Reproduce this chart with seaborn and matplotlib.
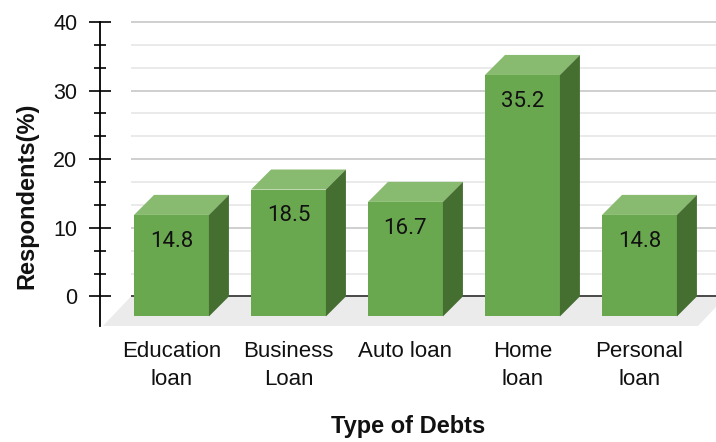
import matplotlib
matplotlib.use("Agg")
import matplotlib.pyplot as plt
from matplotlib.patches import Polygon
from matplotlib.ticker import FixedLocator
import pandas as pd
import seaborn as sns

# Survey data: share of respondents holding each type of debt
categories = ["Education\nloan", "Business\nLoan", "Auto loan", "Home\nloan", "Personal\nloan"]
respondents = [14.8, 18.5, 16.7, 35.2, 14.8]
y_ticks = [0, 10, 20, 30, 40]

df = pd.DataFrame({"debt": categories, "pct": respondents})

sns.set_theme(style="white")
plt.rcParams["font.family"] = ["Liberation Sans", "DejaVu Sans"]

FRONT = "#6aa84f"
TOP = "#88ba6f"
SIDE = "#456f30"
FLOOR = "#ebebeb"

fig = plt.figure(figsize=(7.16, 4.42), dpi=100)
ax = fig.add_axes([100 / 716, 116 / 442, 616 / 716, 304 / 442])

BAR_W = 0.64          # front face width in category units
DX = 20 / 117         # depth offset, category units
DY = 20 / 6.85        # depth offset, value units
FLOOR_DX = 28 / 117
FLOOR_DY = 29.5 / 6.85

x_lo, x_hi = -0.611, 4.654
y_lo, y_hi = -4.31, 40

# front faces drawn by seaborn, then pushed forward by the depth offset
sns.barplot(data=df, x="debt", y="pct", color=FRONT, saturation=1, width=BAR_W,
            edgecolor="none", ax=ax, zorder=3)
bars = list(ax.patches)

ax.set_xlim(x_lo, x_hi)
ax.set_ylim(y_lo, y_hi)

# floor of the 3-D plot area
back_left = -0.346
ax.add_patch(Polygon([(back_left, 0), (back_left - FLOOR_DX, -FLOOR_DY),
                      (4.5, -FLOOR_DY), (4.5 + FLOOR_DX, 0)],
                     closed=True, facecolor=FLOOR, edgecolor="none", zorder=0.5))

# back-wall gridlines
for i in range(1, 13):
    v = i * 10 / 3
    major = i % 3 == 0
    ax.hlines(v, back_left, x_hi, colors="#cfcfcf" if major else "#e6e6e6",
              linewidth=1.4 if major else 1.2, zorder=0.8, clip_on=False)
ax.hlines(0, back_left, x_hi, colors="#3a3a3a", linewidth=1.3, zorder=0.9)

for patch, val in zip(bars, respondents):
    patch.set_y(-DY)
    x0 = patch.get_x()
    x1 = x0 + patch.get_width()
    top = patch.get_y() + patch.get_height()
    ax.add_patch(Polygon([(x0, top), (x1, top), (x1 + DX, top + DY), (x0 + DX, top + DY)],
                         closed=True, facecolor=TOP, edgecolor="none", zorder=3))
    ax.add_patch(Polygon([(x1, -DY), (x1 + DX, 0), (x1 + DX, top + DY), (x1, top)],
                         closed=True, facecolor=SIDE, edgecolor="none", zorder=3))
    ax.annotate(f"{val:.1f}", xy=((x0 + x1) / 2, top), xytext=(0, -19),
                textcoords="offset points", ha="center", va="center",
                fontsize=16, family=["Roboto", "DejaVu Sans"], color="#111111", zorder=5)

# axes styling
for side in ["top", "right", "bottom"]:
    ax.spines[side].set_visible(False)
ax.spines["left"].set_color("black")
ax.spines["left"].set_linewidth(1.3)
ax.spines["left"].set_bounds(y_lo, y_hi)

ax.set_yticks(y_ticks)
ax.set_yticklabels([str(t) for t in y_ticks])
ax.yaxis.set_minor_locator(FixedLocator([i * 10 / 3 for i in range(1, 12) if i % 3]))
ax.tick_params(axis="y", which="major", direction="inout", length=16.5, width=1.2,
               color="black", labelsize=15.5, pad=8, labelcolor="#111111", left=True)
ax.tick_params(axis="y", which="minor", direction="inout", length=8.5, width=1.2,
               color="black", left=True)
ax.tick_params(axis="x", length=0, pad=11, labelsize=16, labelcolor="#111111")
for lbl in ax.get_xticklabels():
    lbl.set_linespacing(1.4)
    lbl.set_va("top")

ax.set_xlabel("Type of Debts", fontsize=17, fontweight="bold", color="#111111")
ax.xaxis.set_label_coords(0.5, -0.332)
ax.xaxis.label.set_va("center")
ax.set_ylabel("Respondents(%)", fontsize=17, fontweight="bold", color="#111111")
ax.yaxis.set_label_coords(-0.1185, 0.428)
ax.yaxis.label.set_va("center")

ax.grid(False)
ax.set_facecolor("none")
fig.patch.set_facecolor("white")
fig.savefig("out.png", dpi=100)
